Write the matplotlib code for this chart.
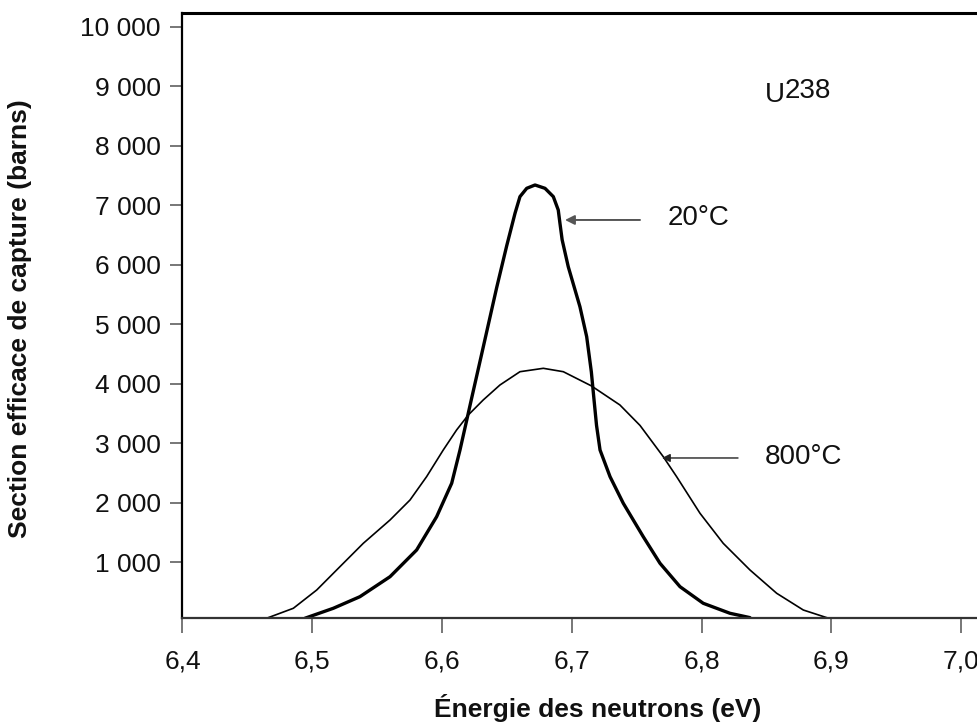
import matplotlib
matplotlib.use("Agg")
import matplotlib.pyplot as plt

plt.rcParams['font.family'] = ['Liberation Sans', 'DejaVu Sans']

# Data (energy in eV, cross-section in barns)
energy_20 = [6.4944, 6.5162, 6.5367, 6.5599, 6.5804, 6.5958, 6.6074, 6.6138, 6.6190,
             6.6228, 6.6305, 6.6421, 6.6498, 6.6562, 6.6600, 6.6652, 6.6716, 6.6793,
             6.6857, 6.6895, 6.6908, 6.6925, 6.6972, 6.7062, 6.7114, 6.7150, 6.7172,
             6.7190, 6.7217, 6.7294, 6.7396, 6.7550, 6.7679, 6.7833, 6.8012, 6.8218, 6.8372]
sigma_20 = [60, 227, 422, 758, 1207, 1766, 2328, 2887, 3390,
            3760, 4500, 5620, 6320, 6866, 7145, 7285, 7341, 7285,
            7145, 6921, 6700, 6420, 5968, 5296, 4792, 4200, 3700,
            3300, 2887, 2439, 1992, 1430, 983, 590, 311, 143, 70]

energy_800 = [6.4661, 6.4854, 6.5034, 6.5213, 6.5393, 6.5599, 6.5753, 6.5881, 6.6009,
              6.6112, 6.6202, 6.6317, 6.6446, 6.6600, 6.6780, 6.6934, 6.7150, 6.7370,
              6.7525, 6.7704, 6.7807, 6.7987, 6.8166, 6.8372, 6.8578, 6.8783, 6.8963]
sigma_800 = [70, 227, 534, 926, 1319, 1711, 2047, 2440, 2887,
             3224, 3476, 3728, 3980, 4203, 4260, 4203, 3965, 3644,
             3300, 2775, 2439, 1824, 1319, 871, 479, 198, 70]

xticks = [6.4, 6.5, 6.6, 6.7, 6.8, 6.9, 7.0]
xticklabels = ['6,4', '6,5', '6,6', '6,7', '6,8', '6,9', '7,0']
yticks = [1000, 2000, 3000, 4000, 5000, 6000, 7000, 8000, 9000, 10000]
yticklabels = ['1 000', '2 000', '3 000', '4 000', '5 000', '6 000', '7 000',
               '8 000', '9 000', '10 000']

fig = plt.figure(figsize=(9.78, 7.25), dpi=100)
ax = fig.add_axes([0.1866, 0.1472, 0.8134, 0.8345])

ax.plot(energy_20, sigma_20, color='black', lw=2.4, solid_capstyle='round',
        solid_joinstyle='round')
ax.plot(energy_800, sigma_800, color='black', lw=1.2, solid_joinstyle='round')

ax.set_xlim(6.4, 7.0129)
ax.set_ylim(59, 10227)

ax.set_xticks(xticks)
ax.set_xticklabels(xticklabels)
ax.set_yticks(yticks)
ax.set_yticklabels(yticklabels)

ax.spines['right'].set_visible(False)
ax.spines['top'].set_linewidth(2.2)
ax.spines['top'].set_color('black')
ax.spines['left'].set_linewidth(1.6)
ax.spines['left'].set_color('black')
ax.spines['bottom'].set_linewidth(1.6)
ax.spines['bottom'].set_color('#333333')

ax.tick_params(axis='x', direction='out', length=10.5, width=1.4, color='#777777',
               labelsize=19, pad=12, labelcolor='#111111')
ax.tick_params(axis='y', direction='out', length=8.5, width=1.4, color='#777777',
               labelsize=19, pad=7, labelcolor='#111111')

fig.text(598 / 978, (725 - 717) / 725, 'Énergie des neutrons (eV)', ha='center',
         va='baseline', fontsize=19, fontweight='bold', color='#111111')
fig.text(20 / 978, (725 - 319) / 725, 'Section efficace de capture (barns)',
         ha='center', va='center', rotation=90, fontsize=19, fontweight='bold',
         color='#111111')

# Annotations
ax.text(6.8488, 8736, 'U', ha='left', va='baseline', fontsize=20, color='#111111')
ax.text(6.8642, 8803, '238', ha='left', va='baseline', fontsize=20, color='#111111')

ax.text(6.774, 6669, '20°C', ha='left', va='baseline', fontsize=20, color='#111111')
ax.annotate('', xy=(6.6947, 6753), xytext=(6.7525, 6753),
            arrowprops=dict(arrowstyle='-|>', color='#555555', lw=1.4,
                            mutation_scale=14, shrinkA=0, shrinkB=0))

ax.text(6.8488, 2652, '800°C', ha='left', va='baseline', fontsize=20, color='#111111')
ax.annotate('', xy=(6.7694, 2753), xytext=(6.828, 2753),
            arrowprops=dict(arrowstyle='-|>', color='#222222', lw=1.0,
                            mutation_scale=12, shrinkA=0, shrinkB=0))

fig.savefig('out.png', dpi=100)
